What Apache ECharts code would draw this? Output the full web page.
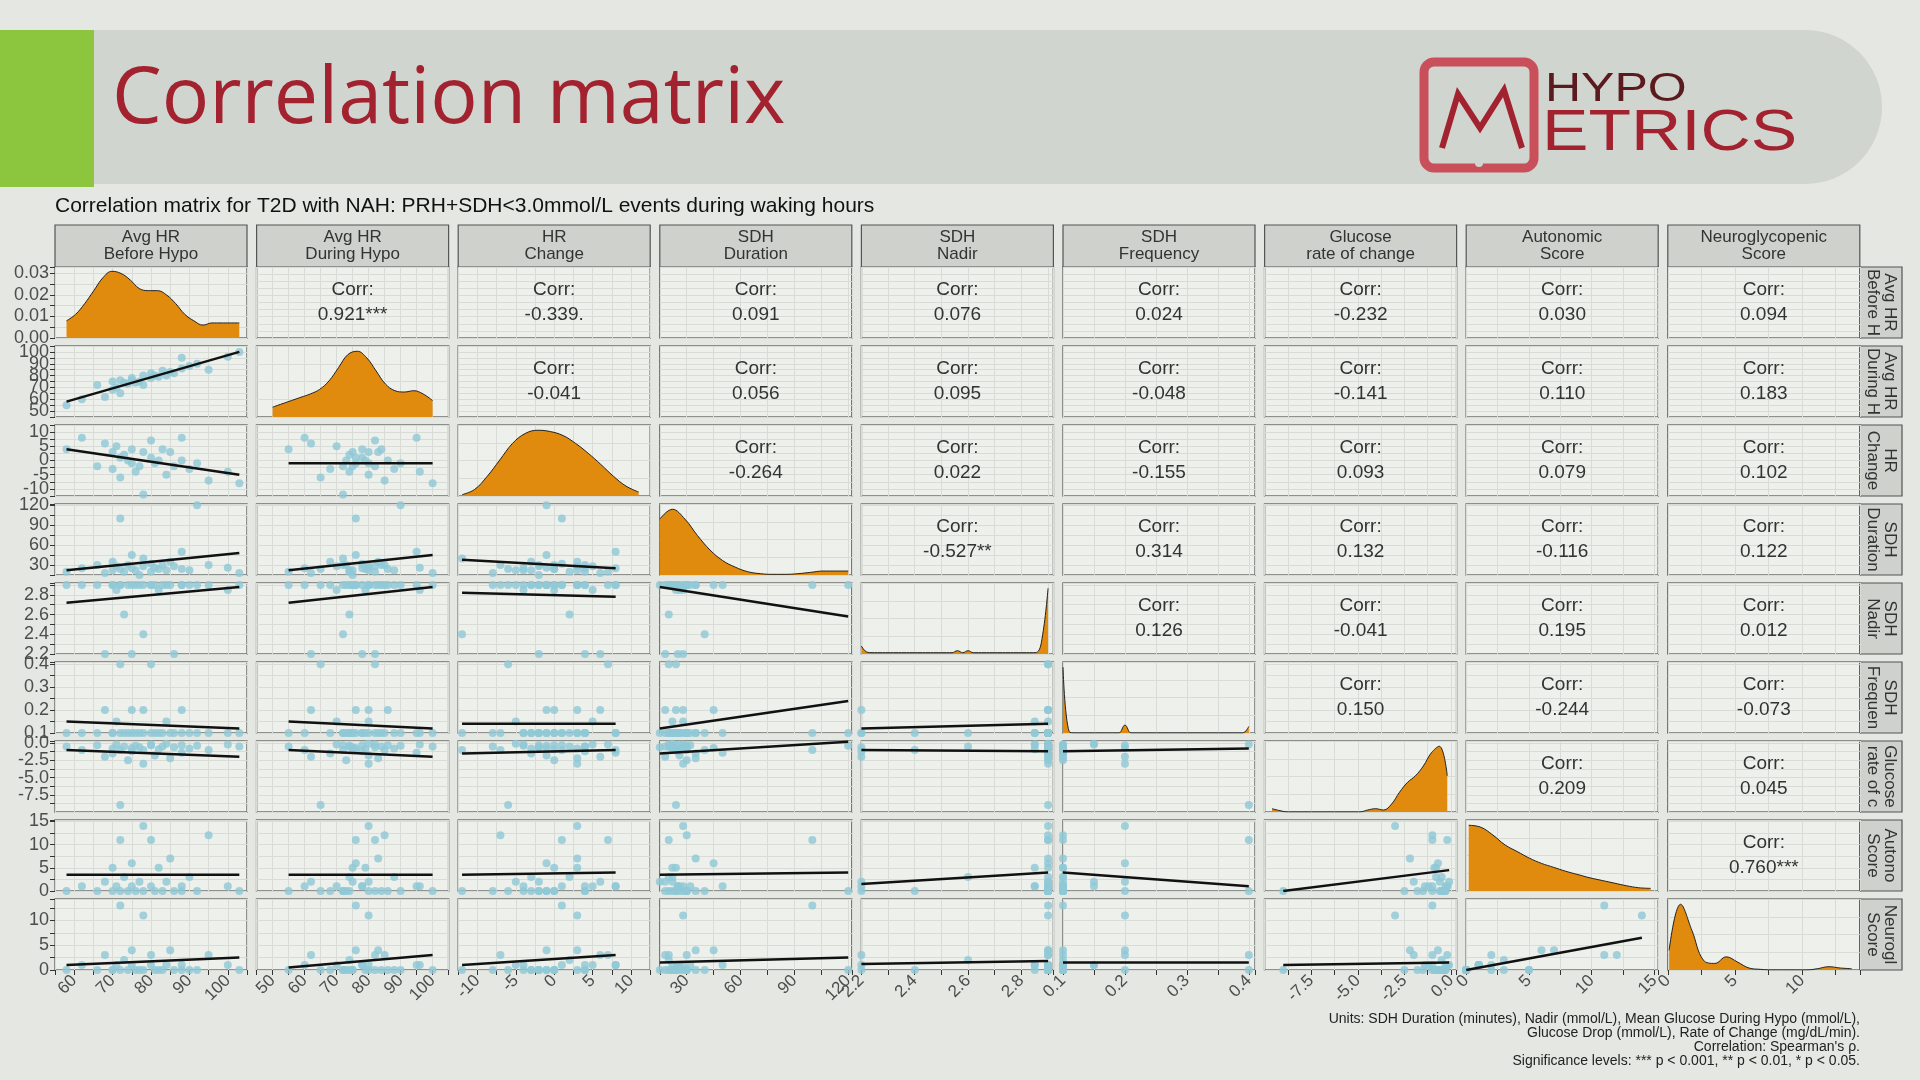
<!DOCTYPE html>
<html>
<head>
<meta charset="utf-8">
<script src="https://cdn.jsdelivr.net/npm/echarts@6/dist/echarts.min.js"></script>
<style>
html,body{margin:0;padding:0;background:#e4e7e2;}
#chart{width:1920px;height:1080px;}
</style>
</head>
<body>
<div id="chart"></div>
<script>
// variable labels
var varNames=['Avg HR\nBefore Hypo','Avg HR\nDuring Hypo','HR\nChange','SDH\nDuration','SDH\nNadir','SDH\nFrequency','Glucose\nrate of change','Autonomic\nScore','Neuroglycopenic\nScore'];
// axis ranges (min,max,label step)
var axMin=[55,45,-12.5,15,2.2,0.1,-10,0,0];
var axMax=[105,105,12.5,122,2.92,0.41,0.3,15.3,14.3];
var axStep=[10,10,5,30,0.2,0.1,2.5,5,5];
var axDec=[0,0,0,0,1,1,1,0,0];
var hideMin=[false,false,false,false,false,false,true,false,false];

// observations per subject
var hrBefore=[58,62,66,68,70,70,71,72,72,73,74,75,75,76,77,78,78,80,80,81,82,83,84,85,86,88,88,90,92,95,100,103];
var hrDuring=[55,60,72,62,75,68,70,76,65,74,73,76,78,74,75,80,72,78,82,80,79,84,80,83,82,95,86,88,90,85,96,100];
var hrChange=[4,8,-2,6,3,-3,5,1,-6,2,0,-1,4,-4,-2,3,-12,1,7,-1,0,4,-5,3,-2,8,0,-3,-1,-7,-4,-8];
var sdhDuration=[20,25,30,18,22,35,28,100,24,20,30,45,25,22,15,28,40,32,20,26,24,30,22,35,28,50,24,22,120,30,26,18];
var sdhNadir=[2.9,2.9,2.9,2.2,2.9,2.9,2.85,2.9,2.9,2.6,2.9,2.9,2.2,2.9,2.9,2.9,2.4,2.9,2.9,2.9,2.85,2.9,2.9,2.9,2.2,2.9,2.9,2.9,2.9,2.9,2.85,2.9];
var sdhFreq=[0.1,0.1,0.1,0.2,0.1,0.1,0.15,0.1,0.4,0.1,0.1,0.2,0.1,0.1,0.1,0.2,0.1,0.1,0.4,0.1,0.1,0.1,0.15,0.1,0.1,0.1,0.2,0.1,0.1,0.1,0.1,0.1];
var glucRoc=[-0.5,-1,-0.3,-2,-0.8,-1.5,-0.2,-1,-9,-0.5,-2.5,-0.7,-1.2,-0.4,-0.6,-3,-1,-0.3,-0.2,-1.8,-0.9,-0.5,-0.1,-2.2,-0.6,-1.4,-0.3,-0.8,-0.4,-1,-0.2,-0.5];
var autoScore=[0,1,0,2,5,0,1,11,0,3,0,6,1,0,2,14,0,1,11,0,5,0,2,7,0,1,0,3,0,12,1,0];
var neuroScore=[0,1,0,3,0,0,1,13,0,2,0,4,1,0,0,11,0,1,3,0,0,0,1,4,0,1,0,0,0,3,1,0];
var obs=[hrBefore,hrDuring,hrChange,sdhDuration,sdhNadir,sdhFreq,glucRoc,autoScore,neuroScore];

// fitted line values at the left and right end of each lower panel, row by row
var fitLeft=[
 [58],
 [4,-1],
 [22,22,38],
 [2.72,2.72,2.82,2.88],
 [0.15,0.15,0.14,0.12,0.12],
 [-1.0,-1.0,-1.5,-1.5,-1.0,-1.2],
 [3.5,3.5,3.5,3.5,1.5,4,0],
 [1,0.5,1,1.5,1.2,1.5,1,0]
];
var fitRight=[
 [100],
 [-5,-1],
 [48,45,25],
 [2.88,2.88,2.78,2.58],
 [0.12,0.12,0.14,0.24,0.14],
 [-2.0,-2.0,-1.0,0.2,-1.2,-0.8],
 [3.5,3.5,4,4,4,1,4.5],
 [2.5,3,3,2.5,1.8,1.5,1.5,6.5]
];

// density curves read from the diagonal (evenly spaced between densFrom and densTo)
var densFrom=[58,50,-12,15,2.2,0.1,-9.6,0.2,0.1];
var densTo=[103,100,11,120,2.9,0.4,-0.2,14.7,13.7];
var dens=[
 [0.008,0.011,0.016,0.022,0.028,0.031,0.030,0.027,0.023,0.022,0.022,0.020,0.016,0.011,0.008,0.006,0.007,0.007,0.007,0.007],
 [0.15,0.2,0.25,0.3,0.35,0.42,0.55,0.75,0.95,1.0,0.9,0.7,0.5,0.4,0.38,0.4,0.35,0.25],
 [0.02,0.1,0.3,0.55,0.8,0.95,1.0,0.98,0.92,0.8,0.65,0.48,0.3,0.15,0.06],
 [0.85,1.0,0.85,0.6,0.38,0.22,0.12,0.05,0.02,0.01,0.01,0.02,0.04,0.06,0.06,0.06],
 [0.12,0.03,0.02,0.02,0.02,0.02,0.02,0.02,0.02,0.02,0.02,0.02,0.02,0.02,0.02,0.02,0.02,0.02,0.05,0.02,0.05,0.02,0.02,0.02,0.02,0.02,0.02,0.02,0.02,0.02,0.02,0.02,0.02,0.03,0.3,1.0],
 [1.0,0.02,0,0,0,0,0,0,0,0,0.12,0,0,0,0,0,0,0,0,0,0,0,0,0,0,0,0,0,0,0,0.1],
 [0.05,0.02,0,0,0,0,0,0,0,0,0,0,0.03,0.05,0.03,0.12,0.3,0.45,0.55,0.7,0.9,1.0,0.55],
 [1.0,0.97,0.85,0.7,0.6,0.5,0.42,0.36,0.3,0.25,0.2,0.16,0.12,0.08,0.05,0.04],
 [0.3,1.0,0.6,0.15,0.1,0.2,0.12,0.03,0.01,0,0,0,0,0.02,0.05,0.03,0.02]
];
// upper triangle correlations, row by row
var corrText=[
 ['0.921***','-0.339.','0.091','0.076','0.024','-0.232','0.030','0.094'],
 ['-0.041','0.056','0.095','-0.048','-0.141','0.110','0.183'],
 ['-0.264','0.022','-0.155','0.093','0.079','0.102'],
 ['-0.527**','0.314','0.132','-0.116','0.122'],
 ['0.126','-0.041','0.195','0.012'],
 ['0.150','-0.244','-0.073'],
 ['0.209','0.045'],
 ['0.760***']
];
var notes=['Units: SDH Duration (minutes), Nadir (mmol/L), Mean Glucose During Hypo (mmol/L),','Glucose Drop (mmol/L), Rate of Change (mg/dL/min).','Correlation: Spearman\'s \u03c1.','Significance levels: *** p < 0.001, ** p < 0.01, * p < 0.05.'];

var N=9, X0=55, PX=201.6, PW=192, Y0=267, PY=79, PH=71;
var grids=[],xAxes=[],yAxes=[],series=[],graphics=[];

function isMajor(v,s){var r=v/s;return Math.abs(r-Math.round(r))<1e-6;}
var gridLine={show:true,lineStyle:{color:'#d9dcd6',width:1}};

for(var i=0;i<N;i++){
  for(var j=0;j<N;j++){
    var k=grids.length;
    grids.push({left:X0+j*PX,top:Y0+i*PY,width:PW,height:PH,show:true,backgroundColor:'#eef0ec',borderColor:'#6f726e',borderWidth:1.5});
    (function(i,j){
      xAxes.push({gridIndex:k,type:'value',min:axMin[j],max:axMax[j],interval:axStep[j]/2,
        axisLine:{show:false},splitLine:gridLine,
        axisTick:{show:i==N-1,length:5,lineStyle:{color:'#333'}},
        axisLabel:{show:i==N-1,rotate:45,fontSize:17,color:'#4d4d4d',margin:8,showMinLabel:!hideMin[j],showMaxLabel:true,
          formatter:function(v){return isMajor(v,axStep[j])?v.toFixed(axDec[j]):'';}}});
      var ymin=axMin[i],ymax=axMax[i],yint=axStep[i]/2,ystep=axStep[i],ydec=axDec[i];
      if(i==j){ymin=0;if(i==0){ymax=0.033;yint=0.005;ystep=0.01;ydec=2;}else{ymax=1.08;yint=0.27;}}
      yAxes.push({gridIndex:k,type:'value',min:ymin,max:ymax,interval:yint,
        axisLine:{show:false},splitLine:gridLine,
        axisTick:{show:j==0,length:5,lineStyle:{color:'#333'}},
        axisLabel:{show:j==0,fontSize:18,color:'#4d4d4d',margin:6,showMinLabel:!(hideMin[i]&&i!=j),
          formatter:function(v){return isMajor(v,ystep)?v.toFixed(ydec):'';}}});
    })(i,j);
    if(i==j){
      var d=[],n=dens[i].length;
      for(var p=0;p<n;p++)d.push([densFrom[i]+(densTo[i]-densFrom[i])*p/(n-1),dens[i][p]]);
      series.push({type:'line',xAxisIndex:k,yAxisIndex:k,data:d,smooth:0.4,symbol:'none',
        lineStyle:{color:'#222',width:1},areaStyle:{color:'#e08a0e',opacity:1}});
    }else if(i>j){
      var pts=[];
      for(var q=0;q<obs[j].length;q++)pts.push([obs[j][q],obs[i][q]]);
      series.push({type:'scatter',xAxisIndex:k,yAxisIndex:k,data:pts,symbolSize:8,clip:false,
        itemStyle:{color:'#8ec8d6'}});
      var lo=Math.min.apply(null,obs[j]),hi=Math.max.apply(null,obs[j]);
      series.push({type:'line',xAxisIndex:k,yAxisIndex:k,data:[[lo,fitLeft[i-1][j]],[hi,fitRight[i-1][j]]],symbol:'none',
        lineStyle:{color:'#111',width:2.5},z:5});
    }else{
      graphics.push({type:'text',x:X0+j*PX+PW/2,y:Y0+i*PY+PH/2,z:100,
        style:{text:'Corr:\n'+corrText[i][j-i-1],fill:'#333',font:'19px "Liberation Sans"',align:'center',verticalAlign:'middle',lineHeight:25}});
    }
  }
}
// column header and row strips
for(var c=0;c<N;c++){
  graphics.push({type:'rect',shape:{x:X0+c*PX,y:225,width:PW,height:42},style:{fill:'#cfd1cd',stroke:'#555',lineWidth:1.2}});
  graphics.push({type:'text',x:X0+c*PX+PW/2,y:246,z:100,style:{text:varNames[c],fill:'#333',font:'17px "Liberation Sans"',align:'center',verticalAlign:'middle',lineHeight:17}});
  graphics.push({type:'rect',shape:{x:1860,y:Y0+c*PY,width:42,height:PH},style:{fill:'#cfd1cd',stroke:'#555',lineWidth:1.2}});
  graphics.push({type:'text',x:1881,y:Y0+c*PY+PH/2,rotation:-Math.PI/2,z:100,
    style:{text:varNames[c],fill:'#333',font:'17px "Liberation Sans"',align:'center',verticalAlign:'middle',lineHeight:17,width:PH-2,overflow:'truncate',ellipsis:''}});
}
// slide banner
graphics.unshift(
  {type:'rect',shape:{x:60,y:30,width:1822,height:154,r:[0,77,77,0]},style:{fill:'#d0d5cf'},z:-10},
  {type:'rect',shape:{x:0,y:30,width:94,height:157},style:{fill:'#8cc63f'},z:-9},
  {type:'text',x:112,y:100,style:{text:'Correlation matrix',fill:'#a3222f',font:'79px "Open Sans"',verticalAlign:'middle'}},
  {type:'rect',shape:{x:1424,y:62,width:110,height:106,r:10},style:{fill:'none',stroke:'#c9505a',lineWidth:9}},
  {type:'circle',shape:{cx:1479,cy:163,r:4},style:{fill:'#d0d5cf'}},
  {type:'polyline',shape:{points:[[1442,148],[1458,94],[1480,128],[1504,90],[1522,148]]},style:{stroke:'#a3222f',lineWidth:6,fill:'none'}},
  {type:'text',x:1545,y:90,scaleX:1.25,originX:0,originY:0,style:{text:'HYPO',fill:'#5a1a1e',font:'40px "Liberation Sans"',verticalAlign:'middle'}},
  {type:'text',x:1542,y:134,scaleX:1.2,originX:0,originY:0,style:{text:'ETRICS',fill:'#a3222f',font:'58px "Liberation Sans"',verticalAlign:'middle'}},
  {type:'text',x:55,y:206,style:{text:'Correlation matrix for T2D with NAH: PRH+SDH<3.0mmol/L events during waking hours',fill:'#111',font:'21px "Liberation Sans"',verticalAlign:'middle'}}
);
for(var m=0;m<notes.length;m++){
  graphics.push({type:'text',x:1860,y:1019+m*14,style:{text:notes[m],fill:'#222',font:'14px "Liberation Sans"',align:'right',verticalAlign:'middle'}});
}

var chart=echarts.init(document.getElementById('chart'));
chart.setOption({backgroundColor:'#e4e7e2',animation:false,grid:grids,xAxis:xAxes,yAxis:yAxes,series:series,graphic:graphics});
</script>
</body>
</html>
